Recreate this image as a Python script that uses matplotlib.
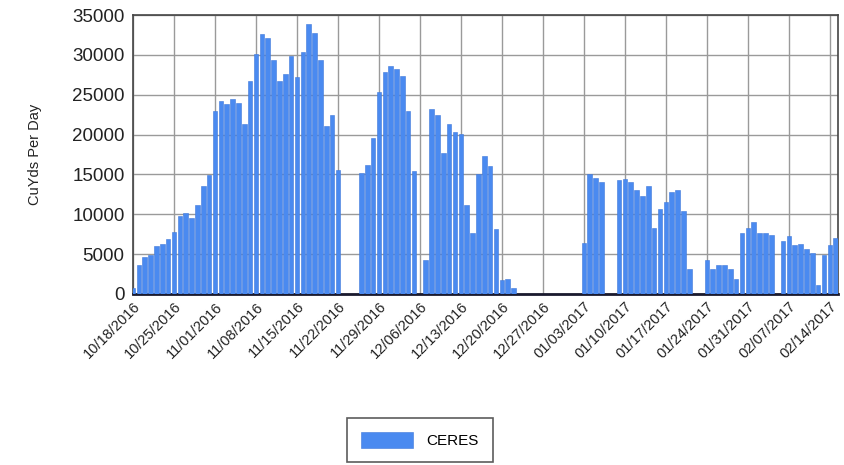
import datetime as dt
import matplotlib
matplotlib.use("Agg")
import matplotlib.pyplot as plt
import numpy as np

start_date = dt.date(2016, 10, 18)
series_name = "CERES"
y_label = "CuYds Per Day"

# daily values from 10/18/2016 (day 0) to 02/15/2017 (day 120)
values = [
    700, 3600, 4600, 4900, 6000, 6300, 6900, 7800, 9800, 10100,
    9500, 11200, 13600, 14900, 23000, 24200, 23800, 24400, 23900, 21300,
    26700, 30100, 32600, 32100, 29300, 26700, 27600, 29800, 27200, 30300,
    33900, 32700, 29400, 21100, 22500, 15600, 0, 0, 0, 15200,
    16200, 19600, 25300, 27900, 28600, 28200, 27400, 23000, 15400, 0,
    4300, 23200, 22500, 17700, 21300, 20300, 20100, 11200, 7600, 15000,
    17300, 16100, 8100, 1800, 1900, 800, 0, 0, 0, 0,
    0, 0, 0, 0, 0, 0, 0, 6400, 15000, 14600,
    14100, 0, 0, 14300, 14400, 14100, 13100, 12300, 13600, 8300,
    10700, 11600, 12800, 13100, 10400, 3100, 0, 0, 4300, 3100,
    3700, 3700, 3100, 1900, 7600, 8300, 9000, 7700, 7600, 7400,
    0, 6600, 7300, 6200, 6300, 5700, 5200, 1100, 4900, 6200,
    7000,
]
tick_days = list(range(0, 121, 7))
tick_labels = [(start_date + dt.timedelta(days=d)).strftime("%m/%d/%Y") for d in tick_days]
y_ticks = [0, 5000, 10000, 15000, 20000, 25000, 30000, 35000]

plt.rcParams['font.family'] = ['Liberation Sans', 'DejaVu Sans']

fig = plt.figure(figsize=(8.45, 4.65), dpi=100)
ax = fig.add_axes([133/845, 1-294/465, (838-133)/845, (294-15)/465])

days = np.arange(len(values))
bars = ax.bar(days, values, width=0.78, color="#4A8AF0", edgecolor="#3F78DA",
              linewidth=0.4, label=series_name, zorder=3)

ax.set_xlim(0, 120.4)
ax.set_ylim(0, 35000)
ax.set_xticks(tick_days)
ax.set_xticklabels(tick_labels, rotation=45, ha="right", rotation_mode="anchor",
                   fontsize=10.5, color="#222222")
ax.set_yticks(y_ticks)
ax.set_yticklabels([str(v) for v in y_ticks], fontsize=13.5, color="#222222")
ax.tick_params(axis="y", length=0, pad=6)
ax.tick_params(axis="x", length=0, pad=4)
ax.grid(True, color="#9a9a9a", linewidth=1.0, zorder=0)
ax.set_axisbelow(True)
for side in ["left", "top", "right"]:
    ax.spines[side].set_color("#444444")
    ax.spines[side].set_linewidth(1.2)
ax.spines["bottom"].set_color("#1a1a2e")
ax.spines["bottom"].set_linewidth(2.0)
ax.set_ylabel(y_label, fontsize=10.5, color="#222222", labelpad=22)

leg = fig.legend(handles=[bars], labels=[series_name], loc="center",
                 bbox_to_anchor=(420/845, 1-440/465), fontsize=11,
                 frameon=True, fancybox=False, edgecolor="#333333",
                 handlelength=3.4, handleheight=1.3, borderpad=0.9,
                 handletextpad=0.9)
leg.get_frame().set_linewidth(1.2)

fig.savefig("out.png", dpi=100)
